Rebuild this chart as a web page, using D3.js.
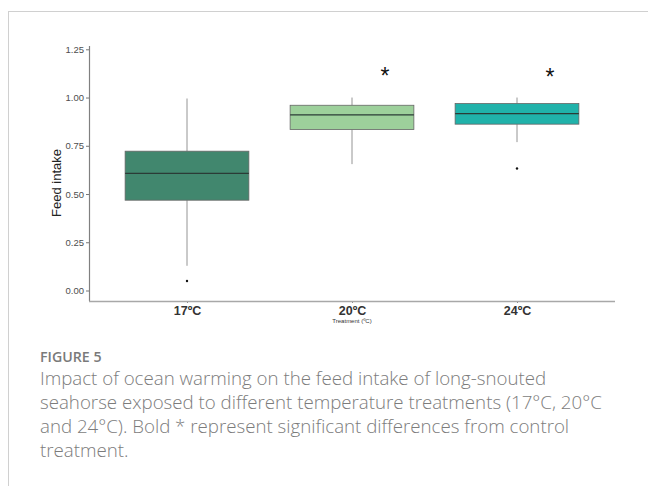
<!DOCTYPE html>
<html>
<head>
<meta charset="UTF-8">
<title>Feed intake by treatment</title>
<script src="https://d3js.org/d3.v7.min.js"></script>
<style>
    body { margin: 0; padding: 0; background: #fff; }
    svg { display: block; }
</style>
</head>
<body>
<svg width="648" height="486"></svg>
<script>
    // treatments and box statistics
    var groups = ["17ºC", "20ºC", "24ºC"];
    var q1 = [0.468, 0.834, 0.862];
    var median = [0.607, 0.910, 0.917];
    var q3 = [0.722, 0.960, 0.969];
    var whiskerLow = [0.128, 0.655, 0.769];
    var whiskerHigh = [0.995, 1.000, 1.000];
    var outliers = [[0.049], [], [0.632]];
    var fills = ["#41876e", "#9dd09b", "#20b2aa"];
    // significance marks (x in group units, y in data units)
    var starX = [2.2, 3.2];
    var starY = [1.125, 1.12];
    var yTicks = [0, 0.25, 0.5, 0.75, 1.0, 1.25];

    var svg = d3.select("svg");
    var sans = "'Liberation Sans', Arial, sans-serif";

    // frame lines of the figure panel
    svg.append("line").attr("x1", 8).attr("x2", 648).attr("y1", 11.5).attr("y2", 11.5)
        .attr("stroke", "#d0d0d0").attr("stroke-width", 1);
    svg.append("line").attr("x1", 8.5).attr("x2", 8.5).attr("y1", 11).attr("y2", 486)
        .attr("stroke", "#d0d0d0").attr("stroke-width", 1);

    var plotLeft = 89, plotRight = 615, plotTop = 46, plotBottom = 301;

    var y = d3.scaleLinear().domain([0, 1.25]).range([290.5, 49.3]);
    var xPos = d3.scaleLinear().domain([0.4, 3.6]).range([plotLeft - 1, plotRight + 1]);
    var boxW = 0.75 * (xPos(2) - xPos(1));

    var g = svg.append("g");

    // y axis
    var yAxis = g.append("g")
        .attr("transform", "translate(" + plotLeft + ",0)")
        .call(d3.axisLeft(y).tickValues(yTicks).tickFormat(d3.format(".2f")).tickSize(3).tickPadding(2));
    yAxis.select(".domain").remove();
    yAxis.selectAll(".tick line").attr("stroke", "#777");
    yAxis.selectAll("text").attr("fill", "#4d4d4d")
        .style("font-family", sans).style("font-size", "9.5px");
    g.append("line").attr("x1", plotLeft + 0.5).attr("x2", plotLeft + 0.5).attr("y1", plotTop).attr("y2", plotBottom)
        .attr("stroke", "#808080").attr("stroke-width", 1.2);

    // x axis
    var xAxis = g.append("g")
        .attr("transform", "translate(0," + plotBottom + ")")
        .call(d3.axisBottom(xPos).tickValues([1, 2, 3]).tickFormat(function (d) { return groups[d - 1]; })
            .tickSize(2).tickPadding(3));
    xAxis.select(".domain").remove();
    xAxis.selectAll(".tick line").attr("stroke", "#888");
    xAxis.selectAll("text").attr("fill", "#333").attr("font-weight", "bold")
        .style("font-family", sans).style("font-size", "12.5px");
    g.append("line").attr("x1", plotLeft).attr("x2", plotRight).attr("y1", plotBottom + 0.5).attr("y2", plotBottom + 0.5)
        .attr("stroke", "#a8a8a8").attr("stroke-width", 1.5);

    // boxes
    var boxes = g.append("g").selectAll("g").data(groups).enter().append("g");
    boxes.append("line")
        .attr("x1", function (d, i) { return xPos(i + 1); })
        .attr("x2", function (d, i) { return xPos(i + 1); })
        .attr("y1", function (d, i) { return y(whiskerHigh[i]); })
        .attr("y2", function (d, i) { return y(q3[i]); })
        .attr("stroke", "#7a7a7a").attr("stroke-width", 0.8);
    boxes.append("line")
        .attr("x1", function (d, i) { return xPos(i + 1); })
        .attr("x2", function (d, i) { return xPos(i + 1); })
        .attr("y1", function (d, i) { return y(q1[i]); })
        .attr("y2", function (d, i) { return y(whiskerLow[i]); })
        .attr("stroke", "#7a7a7a").attr("stroke-width", 0.8);
    boxes.append("rect")
        .attr("x", function (d, i) { return xPos(i + 1) - boxW / 2; })
        .attr("width", boxW)
        .attr("y", function (d, i) { return y(q3[i]); })
        .attr("height", function (d, i) { return y(q1[i]) - y(q3[i]); })
        .attr("fill", function (d, i) { return fills[i]; })
        .attr("stroke", "#666").attr("stroke-width", 0.8);
    boxes.append("line")
        .attr("x1", function (d, i) { return xPos(i + 1) - boxW / 2; })
        .attr("x2", function (d, i) { return xPos(i + 1) + boxW / 2; })
        .attr("y1", function (d, i) { return y(median[i]); })
        .attr("y2", function (d, i) { return y(median[i]); })
        .attr("stroke", "#2b3b36").attr("stroke-width", 1.2);
    boxes.selectAll("circle")
        .data(function (d, i) { return outliers[i].map(function (v) { return { i: i, v: v }; }); })
        .enter().append("circle")
        .attr("cx", function (d) { return xPos(d.i + 1); })
        .attr("cy", function (d) { return y(d.v); })
        .attr("r", 1.2)
        .attr("fill", "#111");

    // significance stars
    g.append("g").selectAll("text").data(starX).enter().append("text")
        .attr("x", function (d) { return xPos(d); })
        .attr("y", function (d, i) { return y(starY[i]) + 11; })
        .attr("text-anchor", "middle")
        .attr("fill", "#111")
        .style("font-family", sans).style("font-size", "23px")
        .text("*");

    // axis titles
    g.append("text")
        .attr("transform", "translate(61,183)rotate(-90)")
        .attr("text-anchor", "middle")
        .attr("fill", "#222")
        .style("font-family", sans).style("font-size", "13px")
        .text("Feed intake");
    g.append("text")
        .attr("x", xPos(2)).attr("y", 323)
        .attr("text-anchor", "middle")
        .attr("fill", "#333")
        .style("font-family", sans).style("font-size", "6px")
        .text("Treatment (ºC)");

    // caption
    svg.append("text")
        .attr("x", 40).attr("y", 361.5)
        .attr("fill", "#7a7a7a").attr("font-weight", "600")
        .style("font-family", "'Open Sans', sans-serif").style("font-size", "14.2px")
        .text("FIGURE 5");
    var captionLines = [
        "Impact of ocean warming on the feed intake of long-snouted",
        "seahorse exposed to different temperature treatments (17°C, 20°C",
        "and 24°C). Bold * represent significant differences from control",
        "treatment."
    ];
    svg.append("g").selectAll("text").data(captionLines).enter().append("text")
        .attr("x", 40)
        .attr("y", function (d, i) { return 385 + i * 23.9; })
        .attr("fill", "#7c7c7c").attr("font-weight", "300")
        .style("font-family", "'Open Sans', sans-serif").style("font-size", "18.7px")
        .text(function (d) { return d; });
</script>
</body>
</html>
